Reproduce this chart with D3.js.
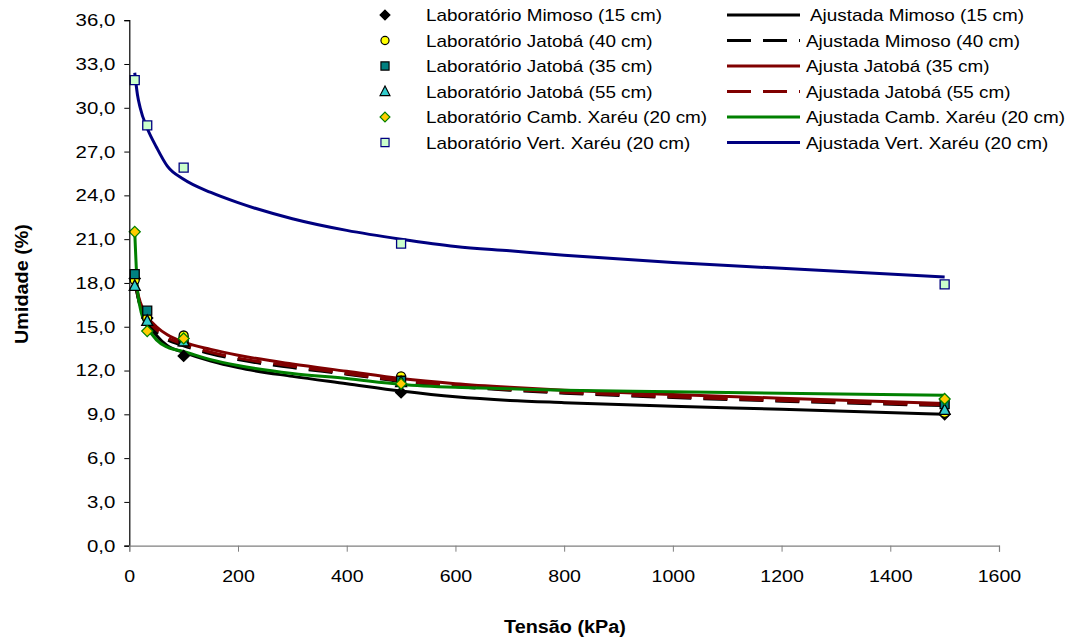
<!DOCTYPE html>
<html>
<head>
<meta charset="utf-8">
<script src="https://cdn.jsdelivr.net/npm/d3@7"></script>
<style>
  html, body { margin: 0; padding: 0; background: #fff; }
  svg { display: block; font-family: "Liberation Sans", Arial, sans-serif; }
</style>
</head>
<body>
<svg id="chart" width="1072" height="641"></svg>
<script>
// ---------- DATA ----------
const xTicks = [0, 200, 400, 600, 800, 1000, 1200, 1400, 1600];
const yTicks = [0, 3, 6, 9, 12, 15, 18, 21, 24, 27, 30, 33, 36];

// laboratory points
const labTensao = [10, 33, 100, 500, 1500];
const labMimoso15 = [18.3, 15.6, 13.0, 10.5, 9.0];
const labJatoba40 = [18.2, 15.6, 14.4, 11.6, 9.1];
const labJatoba35 = [18.6, 16.1, 14.0, 11.3, 9.7];
const labJatoba55 = [17.8, 15.4, 14.0, 11.2, 9.3];
const labCamb20   = [21.5, 14.7, 14.2, 11.1, 10.05];
const labVert20   = [31.9, 28.8, 25.9, 20.7, 17.9];

// fitted curves
const fitTensao = [10, 15, 20, 33, 50, 70, 100, 150, 200, 300, 400, 500, 600, 700, 800, 1000, 1200, 1500];
const fitMimoso15 = [18.3, 17.2, 16.5, 15.3, 14.4, 13.7, 13.25, 12.65, 12.2, 11.6, 11.1, 10.6, 10.2, 9.95, 9.8, 9.55, 9.35, 9.0];
const fitMimoso40 = [18.2, 17.2, 16.4, 15.4, 14.6, 14.1, 13.7, 13.15, 12.75, 12.2, 11.75, 11.25, 10.9, 10.65, 10.45, 10.15, 9.9, 9.6];
const fitJatoba35 = [18.5, 17.4, 16.7, 15.7, 15.0, 14.45, 13.95, 13.45, 13.05, 12.45, 11.95, 11.45, 11.1, 10.85, 10.65, 10.35, 10.1, 9.75];
const fitJatoba55 = [18.3, 17.3, 16.5, 15.5, 14.8, 14.25, 13.8, 13.25, 12.85, 12.3, 11.8, 11.3, 10.95, 10.7, 10.5, 10.2, 9.95, 9.65];
const fitCamb20   = [21.5, 17.6, 16.3, 15.0, 14.1, 13.6, 13.3, 12.75, 12.35, 11.8, 11.45, 11.05, 10.85, 10.75, 10.65, 10.55, 10.45, 10.3];
const fitVert20   = [32.4, 30.9, 30.0, 28.6, 27.3, 26.0, 25.1, 24.2, 23.5, 22.4, 21.6, 21.0, 20.5, 20.2, 19.9, 19.4, 19.0, 18.4];

const labNames = [
  "Laboratório Mimoso (15 cm)",
  "Laboratório Jatobá (40 cm)",
  "Laboratório Jatobá (35 cm)",
  "Laboratório Jatobá (55 cm)",
  "Laboratório Camb. Xaréu (20 cm)",
  "Laboratório Vert. Xaréu (20 cm)"
];
const fitNames = [
  "Ajustada Mimoso (15 cm)",
  "Ajustada Mimoso (40 cm)",
  "Ajusta Jatobá (35 cm)",
  "Ajustada Jatobá (55 cm)",
  "Ajustada Camb. Xaréu (20 cm)",
  "Ajustada Vert. Xaréu (20 cm)"
];

// ---------- STYLES ----------
const labSeries = [
  { values: labMimoso15, shape: "diamond",  fill: "#000000", stroke: "#000000" },
  { values: labJatoba40, shape: "circle",   fill: "#FFFF00", stroke: "#000000" },
  { values: labJatoba35, shape: "square",   fill: "#008080", stroke: "#000000" },
  { values: labJatoba55, shape: "triangle", fill: "#33CCCC", stroke: "#000000" },
  { values: labCamb20,   shape: "diamond",  fill: "#FFCC00", stroke: "#008000" },
  { values: labVert20,   shape: "square",   fill: "#CCFFCC", stroke: "#000080" }
];
const fitSeries = [
  { values: fitMimoso15, color: "#000000", dash: null },
  { values: fitMimoso40, color: "#000000", dash: "24,12" },
  { values: fitJatoba35, color: "#800000", dash: null },
  { values: fitJatoba55, color: "#800000", dash: "24,12" },
  { values: fitCamb20,   color: "#008000", dash: null },
  { values: fitVert20,   color: "#000080", dash: null }
];

// ---------- LAYOUT ----------
const svg = d3.select("#chart");
const x0 = 129.3, x1 = 999, yTop = 20.2, yBot = 545.7;
const x = d3.scaleLinear().domain([0, 1600]).range([x0, x1]);
const y = d3.scaleLinear().domain([0, 36]).range([yBot, yTop]);
const fmt = v => d3.format(".1f")(v).replace(".", ",");

// Fitted lines
const lineGen = d3.line().x(d => x(d[0])).y(d => y(d[1])).curve(d3.curveMonotoneX);
const drawOrder = [0, 2, 1, 3, 4, 5];
drawOrder.forEach(i => {
  const s = fitSeries[i];
  svg.append("path")
    .datum(fitTensao.map((t, k) => [t, s.values[k]]))
    .attr("d", lineGen)
    .attr("fill", "none")
    .attr("stroke", s.color)
    .attr("stroke-width", 3)
    .attr("stroke-dasharray", s.dash)
    .attr("stroke-linejoin", "round");
});

function markerPath(shape) {
  switch (shape) {
    case "diamond": return "M0,-5.5L5.5,0L0,5.5L-5.5,0Z";
    case "square": return "M-4.5,-4.5H4.5V4.5H-4.5Z";
    case "triangle": return "M0,-6L5.5,4.5H-5.5Z";
    case "circle": return "M4.5,0A4.5,4.5 0 1,1 -4.5,0A4.5,4.5 0 1,1 4.5,0Z";
  }
}

labSeries.forEach(s => {
  svg.append("g").selectAll("path")
    .data(labTensao.map((t, k) => [t, s.values[k]]))
    .join("path")
    .attr("d", markerPath(s.shape))
    .attr("transform", d => `translate(${x(d[0])},${y(d[1])})`)
    .attr("fill", s.fill)
    .attr("stroke", s.stroke)
    .attr("stroke-width", 1.3);
});

// ---------- AXES ----------
const yAxis = d3.axisLeft(y).tickValues(yTicks).tickFormat(fmt).tickSize(5).tickPadding(9);
const gy = svg.append("g").attr("transform", `translate(${x0},0)`).call(yAxis);
gy.select(".domain").attr("stroke", "#000").attr("stroke-width", 1.2);
gy.selectAll(".tick line").attr("stroke", "#000");
gy.selectAll(".tick text").attr("font-size", 17).attr("fill", "#000")
  .attr("font-family", "Liberation Sans, Arial, sans-serif").attr("data-k", 1.2);

const xAxis = d3.axisBottom(x).tickValues(xTicks).tickFormat(d3.format("d")).tickSize(6).tickPadding(18);
const gx = svg.append("g").attr("transform", `translate(0,${yBot})`).call(xAxis);
gx.select(".domain").attr("stroke", "#808080").attr("stroke-width", 1.2);
gx.selectAll(".tick line").attr("stroke", "#808080");
gx.selectAll(".tick text").attr("font-size", 17).attr("fill", "#000")
  .attr("font-family", "Liberation Sans, Arial, sans-serif").attr("data-k", 1.15);

// axis titles
svg.append("text")
  .attr("x", 565).attr("y", 633)
  .attr("text-anchor", "middle")
  .attr("font-size", 18).attr("font-weight", "bold")
  .attr("data-k", 1.1)
  .text("Tensão (kPa)");
svg.append("text")
  .attr("transform", "translate(28,284) rotate(-90)")
  .attr("text-anchor", "middle")
  .attr("font-size", 18).attr("font-weight", "bold")
  .attr("data-k", 1.1)
  .text("Umidade (%)");

// ---------- LEGEND ----------
const legY0 = 15, legDy = 25.5;
const leg = svg.append("g");
labSeries.forEach((s, i) => {
  const yy = legY0 + i * legDy;
  leg.append("path")
    .attr("d", markerPath(s.shape))
    .attr("transform", `translate(385,${yy}) scale(0.9)`)
    .attr("fill", s.fill).attr("stroke", s.stroke).attr("stroke-width", 1.3);
  leg.append("text")
    .attr("x", 426).attr("y", yy).attr("dy", "0.36em")
    .attr("font-size", 17).attr("fill", "#000")
    .attr("data-k", 1.11)
    .text(labNames[i]);
});
fitSeries.forEach((s, i) => {
  const yy = legY0 + i * legDy;
  leg.append("line")
    .attr("x1", 727).attr("x2", 800).attr("y1", yy).attr("y2", yy)
    .attr("stroke", s.color).attr("stroke-width", 3)
    .attr("stroke-dasharray", s.dash);
  leg.append("text")
    .attr("x", i === 0 ? 810 : 806).attr("y", yy).attr("dy", "0.36em")
    .attr("font-size", 17).attr("fill", "#000")
    .attr("data-k", 1.11)
    .text(fitNames[i]);
});

// widen text horizontally to match reference glyph proportions
svg.selectAll("text[data-k]").each(function () {
  const k = +this.getAttribute("data-k");
  const L = this.getComputedTextLength();
  d3.select(this).attr("textLength", L * k).attr("lengthAdjust", "spacingAndGlyphs");
});
</script>
</body>
</html>
